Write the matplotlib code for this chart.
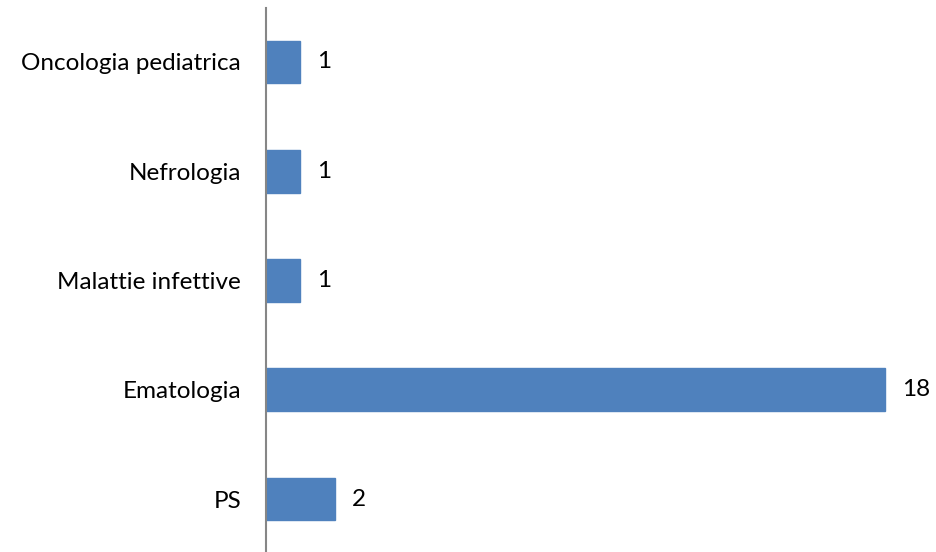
import matplotlib.pyplot as plt

reparti = ['PS', 'Ematologia', 'Malattie infettive', 'Nefrologia', 'Oncologia pediatrica']
casi = [2, 18, 1, 1, 1]

plt.rcParams['font.family'] = ['Lato', 'DejaVu Sans']

fig = plt.figure(figsize=(9.37, 5.52), dpi=100)
ax = fig.add_axes([266 / 937, 0, 665 / 937, 544 / 552])

pos = range(len(reparti))
bars = ax.barh(pos, casi, height=0.39, color='#4F81BD', edgecolor='#4F81BD')
ax.bar_label(bars, labels=[str(v) for v in casi], padding=12, fontsize=17.5)

ax.set_yticks(list(pos))
ax.set_yticklabels(reparti, fontsize=17.5)
ax.tick_params(axis='y', length=0, pad=18)
ax.set_xticks([])
ax.set_xlim(0, 665 / 34.4)
ax.set_ylim(-0.485, 4.494)

for s in ['top', 'right', 'bottom']:
    ax.spines[s].set_visible(False)
ax.spines['left'].set_color('#868686')
ax.spines['left'].set_linewidth(1.5)

fig.savefig('out.png')
